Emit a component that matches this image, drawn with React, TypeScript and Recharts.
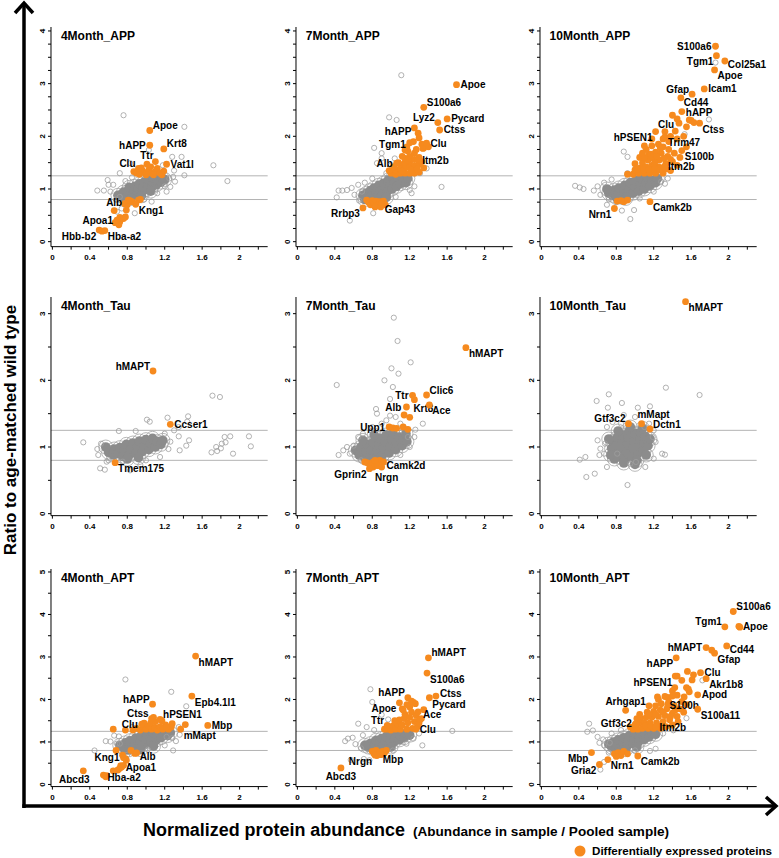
import { ScatterChart, Scatter, XAxis, YAxis, ReferenceLine } from "recharts";

type Pt = [number, number];
type Named = [string, number, number];
type Anchor = string | [string, number, number];

const FONT = '"Liberation Sans", Arial, Helvetica, sans-serif';
const ORANGE = "#F68A1E";

// axis ticks
const xTicks = [0, 0.2, 0.4, 0.6, 0.8, 1, 1.2, 1.4, 1.6, 1.8, 2, 2.2];
const xLabelled = [0, 0.4, 0.8, 1.2, 1.6, 2];
const appYTicks = [0, 0.25, 0.5, 0.75, 1, 1.25, 1.5, 1.75, 2, 2.25, 2.5, 2.75, 3, 3.25, 3.5, 3.75, 4];
const tauYTicks = [0, 0.5, 1, 1.5, 2, 2.5, 3];
const aptYTicks = [0, 0.5, 1, 1.5, 2, 2.5, 3, 3.5, 4, 4.5, 5];

// ---------- 4Month_APP ----------
const app4Cloud: Pt[] = [
  [0.70, 0.88], [0.75, 0.86], [0.76, 0.94], [0.80, 0.87], [0.81, 0.96], [0.82, 1.03], [0.86, 0.88], [0.87, 0.97],
  [0.88, 1.05], [0.91, 0.92], [0.92, 1.01], [0.93, 1.10], [0.96, 0.95], [0.97, 1.04], [0.98, 1.13], [1.01, 0.99],
  [1.02, 1.08], [1.03, 1.17], [1.06, 1.03], [1.07, 1.12], [1.08, 1.20], [1.11, 1.08], [1.12, 1.16], [1.13, 1.23],
  [1.16, 1.13], [1.17, 1.21], [1.20, 1.18], [0.84, 0.82], [0.95, 0.87], [1.05, 0.96],
];
const app4Open: Pt[] = [
  [0.76, 2.40], [1.41, 2.18], [1.72, 1.45], [1.87, 1.15], [1.41, 1.26], [1.38, 1.61], [1.28, 1.61], [1.03, 1.74],
  [0.48, 0.97], [0.55, 0.97], [0.59, 1.17], [0.60, 1.08], [0.62, 0.95], [0.72, 0.85], [1.29, 1.23], [1.31, 1.14],
  [1.26, 1.04], [1.22, 0.95], [1.06, 0.76], [0.88, 0.54], [0.74, 0.63], [0.69, 0.57], [0.83, 1.49], [0.72, 1.30],
  [0.65, 1.08], [1.25, 1.20], [1.20, 1.05], [0.68, 0.80], [0.78, 1.15], [0.85, 1.22], [1.12, 0.92], [0.98, 0.80],
  [1.30, 1.35], [1.18, 1.45],
];
const app4DE: Pt[] = [
  [0.87, 1.33], [0.90, 1.30], [0.96, 1.35], [0.99, 1.31], [1.03, 1.36], [1.06, 1.30], [1.10, 1.33], [1.12, 1.39],
  [1.15, 1.30], [1.19, 1.34], [0.93, 1.28], [1.00, 1.27], [1.08, 1.27], [1.17, 1.27], [1.10, 1.52], [1.05, 1.42],
  [0.95, 1.40], [0.81, 0.79], [0.80, 0.70], [0.79, 0.60], [0.85, 0.76], [0.92, 0.79], [0.94, 0.80], [0.72, 0.46],
  [0.76, 0.44], [0.67, 0.36], [0.72, 0.38], [0.78, 0.47], [0.71, 0.32], [0.53, 0.20], [0.83, 0.78], [0.77, 0.72],
];
const app4Named: Named[] = [
  ["Apoe", 1.04, 2.11], ["hAPP", 1.04, 1.83], ["Krt8", 1.19, 1.76], ["Ttr", 1.01, 1.47], ["Vat1l", 1.22, 1.47],
  ["Clu", 0.92, 1.39], ["Alb", 0.66, 0.59], ["Kng1", 0.89, 0.71], ["Apoa1", 0.69, 0.41], ["Hbb-b2", 0.50, 0.22],
  ["Hba-a2", 0.56, 0.21],
];
const app4Anchors: Record<string, Anchor> = {
  Apoe: "ur", hAPP: "l", Krt8: "ur", Ttr: "u", Vat1l: "r", Clu: "ul", Alb: "u", Kng1: "dr", Apoa1: "l",
  "Hbb-b2": "dl", "Hba-a2": "dr",
};

// ---------- 7Month_APP ----------
const app7Cloud: Pt[] = [
  [0.70, 0.88], [0.74, 0.92], [0.76, 0.85], [0.78, 0.97], [0.80, 0.89], [0.82, 1.02], [0.84, 0.94], [0.86, 0.86],
  [0.87, 1.07], [0.89, 0.98], [0.91, 0.90], [0.92, 1.11], [0.94, 1.03], [0.96, 0.95], [0.97, 1.17], [0.99, 1.08],
  [1.01, 1.00], [1.02, 1.21], [1.04, 1.13], [1.06, 1.05], [1.08, 1.20], [1.10, 1.10], [1.13, 1.17], [1.16, 1.12],
  [1.18, 1.20], [0.72, 0.80], [0.85, 0.80], [0.95, 0.84],
];
const app7Open: Pt[] = [
  [1.11, 3.16], [0.98, 2.36], [1.06, 2.31], [0.82, 1.78], [0.90, 1.68], [0.90, 1.58], [0.85, 1.49], [1.04, 1.58],
  [1.38, 1.39], [1.54, 1.04], [0.44, 0.97], [0.48, 0.97], [0.53, 0.98], [0.42, 0.84], [0.56, 0.40], [0.65, 1.08],
  [0.69, 0.95], [0.81, 0.54], [0.61, 0.89], [1.31, 1.30], [1.20, 0.98], [0.72, 1.12], [0.80, 1.20], [0.95, 1.30],
  [1.25, 1.05], [1.22, 0.92], [1.05, 0.85], [0.66, 0.78], [0.58, 1.02], [1.00, 1.45],
];
const app7DE: Pt[] = [
  [1.00, 1.30], [1.05, 1.28], [1.05, 1.36], [1.10, 1.30], [1.10, 1.38], [1.10, 1.46], [1.15, 1.30], [1.15, 1.40],
  [1.15, 1.50], [1.15, 1.58], [1.20, 1.30], [1.20, 1.42], [1.20, 1.52], [1.20, 1.62], [1.25, 1.30], [1.25, 1.44],
  [1.25, 1.56], [1.25, 1.68], [1.30, 1.32], [1.30, 1.47], [1.30, 1.60], [1.35, 1.40], [1.33, 1.52], [1.08, 1.50],
  [1.12, 1.62], [0.98, 1.35], [1.18, 1.72], [1.27, 1.75], [1.35, 1.78], [1.29, 2.06], [1.30, 1.97], [1.33, 1.85],
  [1.34, 1.77], [1.15, 1.74], [1.17, 1.80], [1.24, 1.90], [1.40, 1.80], [1.03, 1.42], [1.12, 1.34], [1.22, 1.36],
  [1.28, 1.38], [1.18, 1.55], [0.76, 0.75], [0.78, 0.70], [0.80, 0.78], [0.82, 0.72], [0.84, 0.77], [0.86, 0.70],
  [0.88, 0.76], [0.92, 0.77], [0.94, 0.70], [0.83, 0.66], [0.89, 0.66], [0.74, 0.79],
];
const app7Named: Named[] = [
  ["Apoe", 1.70, 2.98], ["S100a6", 1.35, 2.55], ["Lyz2", 1.50, 2.26], ["Pycard", 1.60, 2.33], ["Ctss", 1.52, 2.12],
  ["hAPP", 1.25, 2.16], ["Tgm1", 1.20, 1.88], ["Clu", 1.38, 1.87], ["Itm2b", 1.29, 1.55], ["Alb", 1.06, 1.49],
  ["Rrbp3", 0.70, 0.64], ["Gap43", 0.90, 0.72],
];
const app7Anchors: Record<string, Anchor> = {
  Apoe: "r", S100a6: "ur", Lyz2: "ul", Pycard: "r", Ctss: "r", hAPP: ["dl", 0, -2], Tgm1: ["l", 0, 1.5], Clu: "r",
  Itm2b: "r", Alb: "l", Rrbp3: "dl", Gap43: "dr",
};

// ---------- 10Month_APP ----------
const app10Cloud: Pt[] = [
  [0.72, 0.92], [0.76, 0.88], [0.78, 0.98], [0.82, 0.90], [0.83, 1.02], [0.86, 0.84], [0.88, 0.95], [0.89, 1.07],
  [0.92, 0.88], [0.94, 1.00], [0.95, 1.12], [0.98, 0.92], [1.00, 1.04], [1.01, 1.16], [1.04, 0.96], [1.06, 1.08],
  [1.07, 1.20], [1.10, 1.00], [1.12, 1.12], [1.13, 1.22], [1.16, 1.06], [1.18, 1.16], [1.22, 1.12], [1.24, 1.20],
  [0.80, 0.84], [0.70, 1.00], [0.90, 0.82],
];
const app10Open: Pt[] = [
  [1.79, 2.32], [1.53, 2.04], [0.88, 1.71], [0.92, 1.61], [0.36, 1.06], [0.41, 1.03], [0.45, 1.00], [0.56, 0.97],
  [0.67, 1.12], [0.63, 0.89], [0.70, 0.70], [0.86, 0.59], [0.95, 0.43], [0.99, 0.60], [1.28, 1.14], [1.32, 1.10],
  [1.86, 3.40], [0.75, 1.18], [0.60, 1.05], [0.80, 0.75], [1.05, 0.82], [1.20, 0.95], [1.35, 1.20], [0.92, 1.30],
  [0.72, 0.80],
];
const app10DE: Pt[] = [
  [0.92, 1.28], [0.98, 1.28], [1.00, 1.36], [1.04, 1.30], [1.06, 1.40], [1.08, 1.50], [1.10, 1.30], [1.12, 1.42],
  [1.14, 1.55], [1.15, 1.65], [1.16, 1.30], [1.18, 1.45], [1.20, 1.58], [1.22, 1.70], [1.22, 1.30], [1.25, 1.42],
  [1.26, 1.55], [1.28, 1.68], [1.30, 1.80], [1.30, 1.30], [1.33, 1.48], [1.35, 1.62], [1.36, 1.75], [1.38, 1.35],
  [1.40, 1.52], [1.42, 1.68], [1.45, 1.45], [1.25, 1.85], [1.05, 1.60], [1.00, 1.48], [1.12, 1.75], [1.18, 1.82],
  [1.36, 1.90], [1.48, 1.60], [1.58, 2.31], [1.60, 2.30], [1.63, 2.26], [1.55, 2.18], [1.40, 2.40], [1.43, 2.10],
  [1.32, 2.09], [1.10, 1.82], [1.47, 2.25], [1.52, 2.00], [1.38, 2.00], [1.45, 1.95], [1.30, 1.95], [1.18, 1.95],
  [1.55, 1.80], [1.03, 1.38], [1.09, 1.36], [1.15, 1.37], [1.21, 1.38], [1.27, 1.36], [1.33, 1.38], [1.10, 1.60],
  [1.17, 1.66], [1.23, 1.62], [1.31, 1.58], [1.38, 1.56], [1.27, 1.78], [1.21, 1.50], [1.08, 1.68],
  [0.81, 0.77], [0.85, 0.78], [0.88, 0.76], [0.92, 0.79],
];
const app10Named: Named[] = [
  ["S100a6", 1.86, 3.71], ["Tgm1", 1.87, 3.53], ["Col25a1", 1.96, 3.43], ["Apoe", 1.85, 3.26], ["Gfap", 1.61, 2.80],
  ["Icam1", 1.74, 2.90], ["Cd44", 1.49, 2.73], ["hAPP", 1.50, 2.47], ["Clu", 1.45, 2.33], ["Ctss", 1.69, 2.25],
  ["hPSEN1", 1.22, 2.09], ["Trim47", 1.32, 1.99], ["S100b", 1.50, 1.73], ["Itm2b", 1.31, 1.42], ["Nrn1", 0.78, 0.63],
  ["Camk2b", 1.16, 0.76],
];
const app10Anchors: Record<string, Anchor> = {
  S100a6: "l", Tgm1: "dl", Col25a1: ["dr", 0, -2], Apoe: "dr", Gfap: "ul", Icam1: "r", Cd44: ["dr", 0, -1],
  hAPP: ["r", 0, 1], Clu: "dl", Ctss: "dr", hPSEN1: "dl", Trim47: "dr", S100b: "dr", Itm2b: "r", Nrn1: "dl",
  Camk2b: "dr",
};

// ---------- 4Month_Tau ----------
const tau4Cloud: Pt[] = [
  [0.60, 0.92], [0.65, 0.88], [0.66, 0.97], [0.70, 0.90], [0.72, 0.99], [0.75, 0.86], [0.77, 0.95], [0.79, 1.04],
  [0.82, 0.88], [0.84, 0.97], [0.86, 1.06], [0.89, 0.91], [0.91, 1.00], [0.93, 1.09], [0.96, 0.93], [0.98, 1.02],
  [1.00, 1.11], [1.03, 0.96], [1.05, 1.05], [1.07, 1.13], [1.10, 1.00], [1.12, 1.08], [1.16, 1.04], [1.18, 1.10],
  [0.80, 0.82], [0.92, 0.84], [0.57, 1.00],
];
const tau4Open: Pt[] = [
  [1.71, 1.77], [1.79, 1.75], [0.33, 1.07], [1.01, 1.41], [1.04, 1.38], [1.23, 1.44], [1.45, 1.46], [1.44, 1.38],
  [1.35, 1.30], [1.35, 1.16], [1.43, 1.02], [1.46, 1.10], [1.36, 0.95], [1.24, 0.97], [1.26, 1.08], [1.84, 1.15],
  [1.90, 1.16], [2.10, 1.16], [2.12, 1.01], [1.93, 0.90], [1.70, 0.92], [1.75, 1.00], [1.80, 0.98], [1.85, 1.07],
  [1.81, 1.05], [1.76, 0.94], [0.48, 0.97], [0.49, 0.88], [0.51, 0.68], [0.56, 0.66], [0.58, 0.78], [0.71, 1.24],
  [0.89, 1.24], [0.83, 0.65], [0.94, 0.73], [1.30, 1.25], [1.20, 1.20], [0.52, 1.05], [0.60, 0.80], [1.15, 0.85],
  [1.00, 0.80], [0.75, 0.78],
];
const tau4DE: Pt[] = [];
const tau4Named: Named[] = [["hMAPT", 1.075, 2.14], ["Ccser1", 1.26, 1.34], ["Tmem175", 0.67, 0.765]];
const tau4Anchors: Record<string, Anchor> = { hMAPT: "ul", Ccser1: "r", Tmem175: "dr" };

// ---------- 7Month_Tau ----------
const tau7Cloud: Pt[] = [
  [0.62, 0.95], [0.66, 0.88], [0.68, 1.00], [0.72, 0.84], [0.73, 0.93], [0.75, 1.04], [0.78, 0.86], [0.79, 0.96],
  [0.81, 1.07], [0.84, 0.84], [0.85, 0.94], [0.87, 1.03], [0.88, 1.13], [0.91, 0.88], [0.92, 0.98], [0.94, 1.08],
  [0.95, 1.18], [0.98, 0.91], [0.99, 1.01], [1.01, 1.11], [1.02, 1.20], [1.05, 0.96], [1.06, 1.06], [1.08, 1.15],
  [1.12, 1.02], [1.13, 1.12], [1.17, 1.08], [1.16, 1.20], [0.70, 1.10], [0.82, 1.18],
];
const tau7Open: Pt[] = [
  [1.03, 2.94], [1.07, 2.59], [1.21, 2.27], [1.005, 2.18], [1.08, 2.10], [0.93, 2.00], [1.02, 1.90], [0.42, 1.93],
  [0.99, 1.72], [0.84, 1.57], [0.85, 1.50], [0.99, 1.47], [1.34, 1.35], [1.26, 1.26], [0.44, 0.88], [0.49, 0.95],
  [0.53, 1.00], [0.60, 1.02], [0.65, 1.15], [0.70, 1.20], [1.18, 1.15], [1.20, 1.00], [1.25, 1.15], [0.95, 1.40],
  [1.10, 1.35], [0.90, 1.35], [0.56, 0.90], [0.68, 0.80], [0.95, 0.78], [1.10, 0.88], [1.05, 1.45], [0.80, 1.30],
];
const tau7DE: Pt[] = [
  [1.14, 1.48], [1.20, 1.445], [1.02, 1.285], [1.06, 1.28], [1.13, 1.30], [1.18, 1.265], [0.72, 0.775], [0.75, 0.76],
  [0.81, 0.775], [0.85, 0.76], [0.88, 0.80], [0.81, 0.70], [0.78, 0.72], [0.86, 0.72], [0.83, 0.80],
];
const tau7Named: Named[] = [
  ["hMAPT", 1.80, 2.49], ["Clic6", 1.38, 1.78], ["Ttr", 1.23, 1.775], ["Krt8", 1.25, 1.71], ["Alb", 1.165, 1.60],
  ["Ace", 1.41, 1.63], ["Upp1", 0.98, 1.30], ["Camk2d", 0.92, 0.775], ["Gprin2", 0.77, 0.675], ["Nrgn", 0.90, 0.70],
];
const tau7Anchors: Record<string, Anchor> = {
  hMAPT: "dr", Clic6: "ur", Ttr: "l", Krt8: ["d", 9, 0], Alb: ["l", -1, 0], Ace: "dr", Upp1: "l",
  Camk2d: ["dr", 0, -2.5], Gprin2: "dl", Nrgn: ["d", 5, 1.5],
};

// ---------- 10Month_Tau ----------
const tau10Cloud: Pt[] = [
  [0.75, 0.98], [0.76, 1.08], [0.79, 0.90], [0.80, 1.02], [0.81, 1.14], [0.84, 0.85], [0.85, 0.96], [0.86, 1.07],
  [0.87, 1.18], [0.90, 0.82], [0.91, 0.93], [0.92, 1.04], [0.93, 1.15], [0.94, 1.24], [0.97, 0.86], [0.98, 0.98],
  [0.99, 1.09], [1.00, 1.20], [1.03, 0.90], [1.04, 1.01], [1.05, 1.12], [1.06, 1.22], [1.09, 0.95], [1.10, 1.06],
  [1.11, 1.16], [1.14, 1.02], [0.78, 0.82], [1.02, 0.80], [0.72, 1.12], [0.74, 0.88], [1.16, 1.12], [1.12, 0.88],
  [0.95, 1.30], [0.88, 0.76], [1.00, 0.74], [0.82, 1.24], [1.08, 1.28],
];
const tau10Open: Pt[] = [
  [1.33, 1.89], [1.69, 1.78], [0.72, 1.79], [0.59, 1.69], [0.86, 1.66], [0.71, 1.59], [1.03, 1.59], [1.16, 1.61],
  [0.41, 0.81], [0.47, 0.85], [0.48, 0.55], [0.57, 0.60], [0.70, 0.70], [0.92, 0.43], [1.11, 0.70], [1.20, 0.825],
  [1.29, 0.90], [1.32, 0.885], [1.19, 1.15], [1.22, 1.075], [0.60, 1.10], [0.63, 0.975], [0.67, 0.90], [0.70, 1.30],
  [0.76, 1.375], [0.81, 0.90], [0.95, 0.75], [1.01, 0.775], [1.10, 1.30], [1.15, 1.35], [0.85, 1.35], [1.20, 1.25],
  [0.68, 1.05], [1.00, 1.45], [0.88, 1.48], [0.62, 0.88],
];
const tau10DE: Pt[] = [];
const tau10Named: Named[] = [["hMAPT", 1.54, 3.18], ["Gtf3c2", 0.93, 1.35], ["mMapt", 1.07, 1.35], ["Dctn1", 1.16, 1.27]];
const tau10Anchors: Record<string, Anchor> = { hMAPT: "dr", Gtf3c2: "ul", mMapt: ["u", 12, -1], Dctn1: "ur" };

// ---------- 4Month_APT ----------
const apt4Cloud: Pt[] = [
  [0.72, 0.92], [0.76, 0.86], [0.78, 0.98], [0.82, 0.90], [0.83, 1.03], [0.87, 0.85], [0.88, 0.96], [0.89, 1.09],
  [0.93, 0.90], [0.94, 1.02], [0.95, 1.15], [0.99, 0.95], [1.00, 1.07], [1.01, 1.19], [1.05, 1.00], [1.06, 1.12],
  [1.07, 1.23], [1.11, 1.05], [1.12, 1.17], [1.16, 1.10], [1.18, 1.21], [1.23, 1.15], [1.26, 1.22], [0.81, 0.81],
  [0.94, 0.82], [1.08, 0.90],
];
const apt4Open: Pt[] = [
  [0.78, 2.47], [1.27, 2.18], [1.43, 1.84], [1.29, 0.80], [1.22, 1.12], [0.45, 0.80], [0.57, 1.02], [0.62, 1.01],
  [0.71, 1.13], [0.72, 0.96], [1.36, 1.17], [1.28, 1.09], [0.69, 0.96], [1.35, 1.35], [1.32, 1.02], [0.85, 1.35],
  [0.80, 0.70], [1.02, 0.82], [1.20, 0.92], [0.66, 1.15],
];
const apt4DE: Pt[] = [
  [0.86, 1.28], [0.90, 1.32], [0.94, 1.28], [0.97, 1.36], [1.00, 1.30], [1.03, 1.38], [1.06, 1.30], [1.09, 1.34],
  [1.12, 1.28], [1.15, 1.36], [1.18, 1.30], [1.21, 1.40], [1.24, 1.30], [1.27, 1.35], [0.98, 1.44], [1.05, 1.45],
  [1.10, 1.48], [1.17, 1.50], [1.08, 1.58], [1.28, 1.43], [1.22, 1.35], [1.42, 1.41], [0.65, 1.30], [0.78, 1.28],
  [0.68, 0.80], [0.88, 0.73], [0.75, 0.69], [0.78, 0.61], [0.79, 0.57], [0.72, 0.38], [0.70, 0.34], [0.76, 0.45],
  [0.73, 0.44], [0.65, 0.32], [0.57, 0.18], [0.58, 0.21], [0.84, 0.80],
];
const apt4Named: Named[] = [
  ["hMAPT", 1.53, 3.02], ["Epb4.1l1", 1.49, 2.08], ["hAPP", 1.07, 1.89], ["Ctss", 1.06, 1.55], ["hPSEN1", 1.15, 1.53],
  ["Clu", 0.955, 1.42], ["Mbp", 1.66, 1.39], ["mMapt", 1.37, 1.30], ["Kng1", 0.76, 0.63], ["Alb", 0.90, 0.74],
  ["Apoa1", 0.74, 0.41], ["Abcd3", 0.33, 0.32], ["Hba-a2", 0.545, 0.22],
];
const apt4Anchors: Record<string, Anchor> = {
  hMAPT: "dr", "Epb4.1l1": "dr", hAPP: "ul", Ctss: "ul", hPSEN1: "ur", Clu: "l", Mbp: "r", mMapt: "dr", Kng1: "l",
  Alb: ["dr", 0, -3], Apoa1: ["r", 0, 0.5], Abcd3: ["d", -9, 0], "Hba-a2": ["r", 0, 2],
};

// ---------- 7Month_APT ----------
const apt7Cloud: Pt[] = [
  [0.76, 0.88], [0.78, 0.96], [0.81, 0.85], [0.83, 0.94], [0.84, 1.04], [0.87, 0.88], [0.88, 0.98], [0.90, 1.08],
  [0.92, 0.92], [0.94, 1.02], [0.95, 1.13], [0.98, 0.96], [0.99, 1.07], [1.00, 1.18], [1.03, 1.00], [1.05, 1.11],
  [1.06, 1.21], [1.09, 1.05], [1.10, 1.15], [1.14, 1.10], [1.16, 1.20], [1.20, 1.16], [0.86, 0.80], [1.00, 0.88],
  [0.72, 0.92],
];
const apt7Open: Pt[] = [
  [0.78, 2.24], [0.80, 1.94], [0.90, 1.64], [0.97, 1.53], [0.65, 1.43], [0.74, 1.35], [1.655, 1.26], [1.335, 0.92],
  [0.51, 1.02], [0.54, 1.08], [0.59, 1.10], [0.57, 0.58], [0.71, 0.60], [0.77, 0.57], [0.70, 1.16], [1.165, 0.96],
  [1.24, 1.08], [0.62, 0.95], [0.82, 1.28], [1.30, 1.20], [1.02, 0.80], [0.68, 0.85],
];
const apt7DE: Pt[] = [
  [0.96, 1.30], [1.00, 1.28], [1.02, 1.38], [1.05, 1.30], [1.07, 1.42], [1.09, 1.52], [1.10, 1.30], [1.12, 1.40],
  [1.14, 1.55], [1.15, 1.65], [1.17, 1.30], [1.18, 1.45], [1.20, 1.58], [1.22, 1.70], [1.23, 1.32], [1.25, 1.48],
  [1.27, 1.62], [1.28, 1.35], [1.30, 1.45], [1.04, 1.50], [1.12, 1.78], [1.20, 1.82], [1.17, 1.88], [1.24, 1.93],
  [1.22, 1.96], [1.26, 1.90], [1.13, 1.75], [1.29, 1.71], [1.35, 1.76], [1.325, 1.55], [0.93, 1.30], [0.80, 0.78],
  [0.82, 0.72], [0.84, 0.80], [0.85, 0.68], [0.87, 0.76], [0.89, 0.70], [0.91, 0.78], [0.93, 0.74], [0.95, 0.80],
];
const apt7Named: Named[] = [
  ["hMAPT", 1.40, 2.98], ["S100a6", 1.385, 2.62], ["Ctss", 1.48, 2.08], ["Pycard", 1.41, 2.04], ["hAPP", 1.18, 2.04],
  ["Apoe", 1.09, 1.92], ["Ace", 1.31, 1.53], ["Ttr", 0.96, 1.39], ["Clu", 1.265, 1.30], ["Nrgn", 0.83, 0.69],
  ["Mbp", 0.88, 0.74], ["Abcd3", 0.465, 0.39],
];
const apt7Anchors: Record<string, Anchor> = {
  hMAPT: "ur", S100a6: "dr", Ctss: ["r", 0, -3], Pycard: ["dr", 0, 1], hAPP: "ul", Apoe: "dl", Ace: "ur", Ttr: "ul",
  Clu: "r", Nrgn: "dl", Mbp: "dr", Abcd3: "d",
};

// ---------- 10Month_APT ----------
const apt10Cloud: Pt[] = [
  [0.72, 0.95], [0.75, 0.88], [0.77, 1.00], [0.80, 0.84], [0.81, 0.93], [0.82, 1.05], [0.86, 0.88], [0.87, 0.98],
  [0.88, 1.10], [0.92, 0.92], [0.93, 1.03], [0.94, 1.15], [0.98, 0.96], [0.99, 1.08], [1.00, 1.20], [1.04, 1.01],
  [1.05, 1.12], [1.06, 1.22], [1.10, 1.06], [1.11, 1.17], [1.15, 1.12], [1.18, 1.20], [1.22, 1.18], [0.90, 0.82],
  [1.02, 0.88],
];
const apt10Open: Pt[] = [
  [1.72, 2.45], [1.55, 1.56], [1.41, 1.275], [0.51, 1.43], [0.49, 1.24], [0.55, 1.27], [0.60, 1.12], [0.66, 1.06],
  [0.67, 0.92], [0.73, 0.98], [0.67, 0.53], [0.63, 0.35], [1.16, 0.79], [1.22, 0.84], [0.62, 0.98], [0.75, 1.20],
  [0.85, 1.28], [1.30, 1.20], [1.00, 0.80], [0.72, 0.75],
];
const apt10DE: Pt[] = [
  [0.98, 1.30], [1.00, 1.40], [1.03, 1.30], [1.05, 1.45], [1.06, 1.55], [1.08, 1.32], [1.10, 1.45], [1.12, 1.58],
  [1.13, 1.70], [1.14, 1.32], [1.16, 1.45], [1.18, 1.58], [1.20, 1.72], [1.22, 1.85], [1.20, 1.32], [1.23, 1.45],
  [1.25, 1.60], [1.27, 1.75], [1.28, 1.90], [1.27, 1.32], [1.30, 1.48], [1.32, 1.62], [1.34, 1.78], [1.36, 1.95],
  [1.33, 1.36], [1.37, 1.52], [1.40, 1.68], [1.42, 1.85], [1.40, 1.40], [1.45, 1.60], [1.48, 1.78], [1.50, 1.95],
  [1.46, 1.48], [1.52, 1.70], [1.55, 1.88], [1.05, 1.65], [1.15, 1.85], [1.25, 2.00], [1.02, 1.55], [0.95, 1.35],
  [1.35, 2.05], [1.45, 2.10], [1.40, 2.20], [1.58, 2.18], [1.56, 2.66], [1.625, 2.58], [1.45, 2.55], [1.55, 2.28],
  [1.57, 2.24], [1.61, 2.46], [1.24, 2.06], [1.32, 2.07], [1.40, 2.08], [1.82, 3.16], [2.12, 3.70], [1.50, 2.45],
  [1.425, 2.28], [1.11, 1.38], [1.17, 1.38], [1.24, 1.38], [1.30, 1.38], [1.15, 1.65], [1.22, 1.65], [1.30, 1.70],
  [1.38, 1.60], [1.43, 1.75], [1.35, 1.88], [0.78, 0.72], [0.82, 0.75], [0.85, 0.68], [0.88, 0.78], [0.92, 0.72],
  [0.80, 0.66],
];
const apt10Named: Named[] = [
  ["S100a6", 2.05, 4.07], ["Tgm1", 1.96, 3.71], ["Apoe", 2.11, 3.72], ["hMAPT", 1.76, 3.22], ["Cd44", 1.98, 3.26],
  ["Gfap", 1.85, 3.09], ["hAPP", 1.44, 2.98], ["Clu", 1.70, 2.63], ["Akr1b8", 1.76, 2.49], ["hPSEN1", 1.43, 2.55],
  ["Apod", 1.67, 2.11], ["S100b", 1.525, 2.06], ["S100a11", 1.67, 1.77], ["Arhgap1", 0.90, 1.745],
  ["Gtf3c2", 1.01, 1.43], ["Itm2b", 1.22, 1.35], ["Mbp", 0.535, 0.75], ["Gria2", 0.62, 0.47], ["Nrn1", 0.71, 0.585],
  ["Camk2b", 1.03, 0.67],
];
const apt10Anchors: Record<string, Anchor> = {
  S100a6: "ur", Tgm1: "ul", Apoe: "r", hMAPT: "l", Cd44: ["dr", 0, -2.5], Gfap: "dr", hAPP: "dl", Clu: "r",
  Akr1b8: "dr", hPSEN1: "dl", Apod: "r", S100b: "d", S100a11: "dr", Arhgap1: "u", Gtf3c2: "l", Itm2b: "r",
  Mbp: "dl", Gria2: "dl", Nrn1: "dr", Camk2b: "dr",
};

// ---------- layout ----------
const XPX = 93.6;
const X_MIN = -0.015;
const X_MAX = 2.3;
const colX0 = [52.3, 297.2, 541];
const rows = [
  { top: 27, yMin: -0.095, yMax: 4.075, ppu: 52.68, ticks: appYTicks },
  { top: 296.6, yMin: -0.03, yMax: 3.25, ppu: 66.67, ticks: tauYTicks },
  { top: 568.7, yMin: -0.05, yMax: 5.07, ppu: 42.5, ticks: aptYTicks },
];
const YW = 30;
const MR = 30;
const MT = 12;
const XH = 22;

const panels = [
  { title: "4Month_APP", row: 0, col: 0, cloud: app4Cloud, open: app4Open, de: app4DE, named: app4Named, anchors: app4Anchors },
  { title: "7Month_APP", row: 0, col: 1, cloud: app7Cloud, open: app7Open, de: app7DE, named: app7Named, anchors: app7Anchors },
  { title: "10Month_APP", row: 0, col: 2, cloud: app10Cloud, open: app10Open, de: app10DE, named: app10Named, anchors: app10Anchors },
  { title: "4Month_Tau", row: 1, col: 0, cloud: tau4Cloud, open: tau4Open, de: tau4DE, named: tau4Named, anchors: tau4Anchors },
  { title: "7Month_Tau", row: 1, col: 1, cloud: tau7Cloud, open: tau7Open, de: tau7DE, named: tau7Named, anchors: tau7Anchors },
  { title: "10Month_Tau", row: 1, col: 2, cloud: tau10Cloud, open: tau10Open, de: tau10DE, named: tau10Named, anchors: tau10Anchors },
  { title: "4Month_APT", row: 2, col: 0, cloud: apt4Cloud, open: apt4Open, de: apt4DE, named: apt4Named, anchors: apt4Anchors },
  { title: "7Month_APT", row: 2, col: 1, cloud: apt7Cloud, open: apt7Open, de: apt7DE, named: apt7Named, anchors: apt7Anchors },
  { title: "10Month_APT", row: 2, col: 2, cloud: apt10Cloud, open: apt10Open, de: apt10DE, named: apt10Named, anchors: apt10Anchors },
];

// label offsets relative to the dot
const OFFS: Record<string, { dx: number; dy: number; anchor: string }> = {
  r: { dx: 4, dy: 3.5, anchor: "start" },
  ur: { dx: 3, dy: -1.5, anchor: "start" },
  dr: { dx: 3, dy: 9.5, anchor: "start" },
  l: { dx: -4, dy: 3.5, anchor: "end" },
  ul: { dx: -3, dy: -1.5, anchor: "end" },
  dl: { dx: -3, dy: 9.5, anchor: "end" },
  u: { dx: 0, dy: -5, anchor: "middle" },
  d: { dx: 0, dy: 12.5, anchor: "middle" },
};

const toPts = (a: Pt[]) => a.map(([x, y]) => ({ x, y }));
const toNamed = (a: Named[]) => a.map(([name, x, y]) => ({ x, y, name }));

const XTick = (props: any) => {
  const { x, y, payload } = props;
  if (!xLabelled.includes(payload.value)) return <g />;
  return (
    <text x={x} y={y + 8} textAnchor="middle" fontSize={8} fontWeight="bold" fill="#000">
      {String(payload.value)}
    </text>
  );
};

const YTick = (props: any) => {
  const { x, y, payload } = props;
  if (!Number.isInteger(payload.value)) return <g />;
  const bx = x - 1.3;
  return (
    <text x={bx} y={y} transform={`rotate(-90 ${bx} ${y})`} textAnchor="middle" fontSize={8} fontWeight="bold" fill="#000">
      {String(payload.value)}
    </text>
  );
};

// dense cloud: a ring of light open circles for the halo, then the solid core
const haloShape = (p: any) => <circle cx={p.cx} cy={p.cy} r={7} fill="none" stroke="#a6a6a6" strokeWidth={0.8} />;
const cloudShape = (p: any) => <circle cx={p.cx} cy={p.cy} r={4.8} fill="#8c8c8c" />;
const openShape = (p: any) => <circle cx={p.cx} cy={p.cy} r={2.6} fill="none" stroke="#9e9e9e" strokeWidth={0.8} />;
const deShape = (p: any) => <circle cx={p.cx} cy={p.cy} r={3.4} fill={ORANGE} />;

const makeNamedShape = (anchors: Record<string, Anchor>) => (p: any) => {
  const name = p.payload?.name ?? p.name;
  const a = anchors[name] ?? "r";
  const [code, ddx, ddy] = typeof a === "string" ? [a, 0, 0] : a;
  const o = OFFS[code];
  return (
    <g>
      <circle cx={p.cx} cy={p.cy} r={3.4} fill={ORANGE} />
      <text x={p.cx + o.dx + ddx} y={p.cy + o.dy + ddy} textAnchor={o.anchor} fontSize={10} fontWeight="bold" fill="#000">
        {name}
      </text>
    </g>
  );
};

const Panel = ({ p }: { p: (typeof panels)[number] }) => {
  const row = rows[p.row];
  const plotW = (X_MAX - X_MIN) * XPX;
  const plotH = (row.yMax - row.yMin) * row.ppu;
  const left = colX0[p.col] + X_MIN * XPX - YW;
  const top = row.top - MT;
  const cloud = toPts(p.cloud);
  return (
    <div style={{ position: "absolute", left, top }}>
      <ScatterChart
        width={YW + plotW + MR}
        height={MT + plotH + XH}
        margin={{ top: MT, right: MR, bottom: 0, left: 0 }}
      >
        <XAxis
          type="number"
          dataKey="x"
          domain={[X_MIN, X_MAX]}
          ticks={xTicks}
          interval={0}
          tickSize={3}
          height={XH}
          axisLine={{ stroke: "#000" }}
          tickLine={{ stroke: "#000" }}
          tick={(t: any) => <XTick {...t} />}
        />
        <YAxis
          type="number"
          dataKey="y"
          domain={[row.yMin, row.yMax]}
          ticks={row.ticks}
          interval={0}
          tickSize={3}
          width={YW}
          axisLine={{ stroke: "#000" }}
          tickLine={{ stroke: "#000" }}
          tick={(t: any) => <YTick {...t} />}
        />
        <ReferenceLine y={1.25} stroke="#b3b3b3" strokeWidth={1} />
        <ReferenceLine y={0.8} stroke="#b3b3b3" strokeWidth={1} />
        <Scatter data={cloud} shape={haloShape} isAnimationActive={false} />
        <Scatter data={cloud} shape={cloudShape} isAnimationActive={false} />
        <Scatter data={toPts(p.open)} shape={openShape} isAnimationActive={false} />
        <Scatter data={toPts(p.de)} shape={deShape} isAnimationActive={false} />
        <Scatter data={toNamed(p.named)} shape={makeNamedShape(p.anchors)} isAnimationActive={false} />
      </ScatterChart>
    </div>
  );
};

export default function App() {
  return (
    <div
      style={{
        position: "absolute",
        left: 0,
        top: 0,
        width: 779,
        height: 858,
        background: "#fff",
        fontFamily: FONT,
        overflow: "hidden",
      }}
    >
      {panels.map((p) => (
        <Panel key={p.title} p={p} />
      ))}
      <svg
        width={779}
        height={858}
        style={{ position: "absolute", left: 0, top: 0, pointerEvents: "none" }}
      >
        {/* panel titles */}
        {panels.map((p) => (
          <text
            key={p.title}
            x={colX0[p.col] + X_MIN * XPX + 10}
            y={rows[p.row].top + 13}
            fontSize={12}
            fontWeight="bold"
            fill="#000"
          >
            {p.title}
          </text>
        ))}
        {/* big axes arrows */}
        <line x1={24} y1={808} x2={24} y2={3} stroke="#000" strokeWidth={3.5} />
        <polyline points="15,13 24,3 33,13" fill="none" stroke="#000" strokeWidth={3.5} />
        <line x1={22.3} y1={806} x2={776} y2={806} stroke="#000" strokeWidth={3.5} />
        <polyline points="766,797 776,806 766,815" fill="none" stroke="#000" strokeWidth={3.5} />
        {/* y title */}
        <text
          x={16}
          y={430}
          transform="rotate(-90 16 430)"
          textAnchor="middle"
          fontSize={17}
          fontWeight="bold"
          fill="#000"
        >
          Ratio to age-matched wild type
        </text>
        {/* x title */}
        <text x={143} y={836} fontSize={18} fontWeight="bold" fill="#000" textLength={262} lengthAdjust="spacingAndGlyphs">
          Normalized protein abundance
        </text>
        <text x={413} y={836} fontSize={12.5} fontWeight="bold" fill="#000" textLength={256} lengthAdjust="spacingAndGlyphs">
          (Abundance in sample / Pooled sample)
        </text>
        {/* legend */}
        <circle cx={580} cy={851} r={5.5} fill={ORANGE} />
        <text x={592} y={855} fontSize={11} fontWeight="bold" fill="#000" textLength={180} lengthAdjust="spacingAndGlyphs">
          Differentially expressed proteins
        </text>
      </svg>
    </div>
  );
}
